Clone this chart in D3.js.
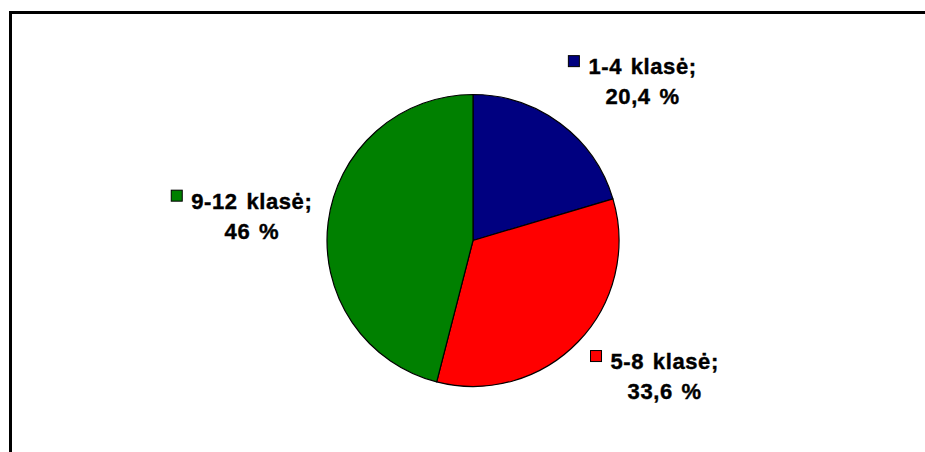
<!DOCTYPE html>
<html>
<head>
<meta charset="utf-8">
<script src="https://cdn.jsdelivr.net/npm/d3@7"></script>
<style>
  body { margin: 0; background: #fff; }
  svg { display: block; }
</style>
</head>
<body>
<div id="chart"></div>
<script>
// chart data
var categories = ["1-4 klasė", "5-8 klasė", "9-12 klasė"];
var shares = [20.4, 33.6, 46];
var shareLabels = ["20,4 %", "33,6 %", "46 %"];
var sliceColors = ["#000080", "#ff0000", "#008000"];

var width = 925
var height = 452
var cx = 473, cy = 240.5
var radius = 146

var svg = d3.select("#chart")
    .append("svg")
    .attr("width", width)
    .attr("height", height)

// frame (only top and left edges are visible in the picture)
svg.append("rect")
    .attr("x", 10.5)
    .attr("y", 12.5)
    .attr("width", 2000)
    .attr("height", 2000)
    .attr("fill", "none")
    .attr("stroke", "#000")
    .attr("stroke-width", 3)

var g = svg.append("g")
    .attr("transform", "translate(" + cx + "," + cy + ")")

var pie = d3.pie()
    .sort(null)
    .value(function (d) { return d; })
var data_ready = pie(shares)

var arcGenerator = d3.arc()
    .innerRadius(0)
    .outerRadius(radius)

g.selectAll("path.slice")
    .data(data_ready)
    .enter()
    .append("path")
    .attr("class", "slice")
    .attr("d", arcGenerator)
    .attr("fill", function (d, i) { return sliceColors[i]; })
    .attr("stroke", "#000")
    .attr("stroke-width", 1.2)
    .attr("stroke-linejoin", "round")

// labels sit outside the pie, nudged the way the original layout put them
var labelArc = d3.arc()
    .innerRadius(230)
    .outerRadius(230)
var labelNudge = [[32, 25], [26, -24], [7, 4]]
var lineGap = 30

var labels = g.selectAll("g.label")
    .data(data_ready)
    .enter()
    .append("g")
    .attr("class", "label")
    .attr("transform", function (d, i) {
        var c = labelArc.centroid(d)
        return "translate(" + (c[0] + labelNudge[i][0]) + "," + (c[1] + labelNudge[i][1]) + ")";
    })

function styleLabel(sel) {
    sel.attr("text-anchor", "middle")
        .attr("font-family", "Arial, 'Liberation Sans', sans-serif")
        .attr("font-weight", 700)
        .attr("font-size", 22)
        .attr("letter-spacing", 0.6)
        .attr("word-spacing", 2)
        .attr("fill", "#000")
        .attr("stroke", "#000")
        .attr("stroke-width", 0.4)
}

labels.append("text")
    .attr("class", "line1")
    .call(styleLabel)
    .attr("y", -lineGap / 2 + 8)
    .text(function (d, i) { return categories[i] + ";"; })

labels.append("text")
    .call(styleLabel)
    .attr("y", lineGap / 2 + 8)
    .text(function (d, i) { return shareLabels[i]; })

// legend key square in front of the first line
labels.each(function (d, i) {
    var t = d3.select(this).select("text.line1")
    var w = t.node().getComputedTextLength()
    d3.select(this).append("rect")
        .attr("x", -w / 2 - 20)
        .attr("y", -lineGap / 2 - 10.5)
        .attr("width", 11)
        .attr("height", 11)
        .attr("fill", sliceColors[i])
        .attr("stroke", "#000")
        .attr("stroke-width", 1)
})
</script>
</body>
</html>
